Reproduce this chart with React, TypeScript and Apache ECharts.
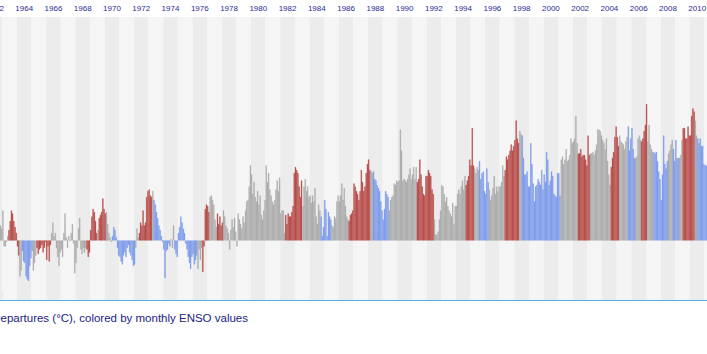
import React, { useEffect, useRef } from "react";
import * as echarts from "echarts";

// Monthly temperature departures (°C), Jan 1962 onwards
const anom1960s = [
  0.04, 0.08, 0.06, 0.03, 0.0, 0.05, 0.02, 0.04, 0.07, 0.02, 0.1, 0.08,
  0.2, -0.04, -0.04, -0.01, 0.03, 0.07, 0.13, 0.2, 0.18, 0.13, 0.09, 0.05,
  -0.04, -0.1, -0.24, -0.2, -0.07, -0.14, -0.15, -0.24, -0.26, -0.27, -0.17, -0.12,
  -0.07, -0.2, -0.15, -0.1, -0.05, -0.09, -0.06, -0.05, -0.03, -0.08, -0.05, -0.01,
  -0.13, -0.04, -0.14, -0.03, 0.05, 0.12, 0.03, 0.05, -0.05, -0.11, -0.17, -0.08,
  -0.06, -0.11, 0.05, 0.18, 0.02, -0.05, 0.03, 0.0, 0.05, 0.11, -0.02, -0.22,
  -0.15, -0.05, 0.08, 0.15, -0.06, -0.09, -0.05, -0.08, -0.05, -0.06, -0.11, -0.08,
  0.07, 0.16, 0.21, 0.19, 0.13, 0.05, 0.07, 0.15, 0.17, 0.19, 0.28, 0.21,
];
const anom1970s = [
  0.18, 0.19, 0.11, 0.05, 0.02, -0.01, 0.03, 0.09, 0.07, 0.02, -0.05, -0.1,
  -0.11, -0.14, -0.16, -0.1, -0.08, -0.11, -0.05, -0.03, -0.08, -0.1, -0.13, -0.17,
  -0.16, -0.05, 0.08, 0.02, 0.05, 0.12, 0.1, 0.2, 0.1, 0.12, 0.29, 0.33,
  0.34, 0.3, 0.29, 0.33, 0.27, 0.24, 0.19, 0.15, 0.1, 0.07, 0.03, -0.01,
  -0.06, -0.25, -0.07, -0.06, -0.02, -0.04, 0.01, -0.05, 0.1, -0.06, -0.09, -0.11,
  0.05, 0.09, 0.16, 0.12, 0.08, 0.05, -0.02, -0.06, -0.11, -0.15, -0.19, -0.11,
  -0.09, -0.16, -0.13, -0.1, -0.19, -0.06, -0.13, -0.05, -0.21, -0.04, 0.21, 0.24,
  0.23, 0.19, 0.29, 0.3, 0.27, 0.24, 0.14, 0.09, 0.18, 0.11, 0.16, 0.1,
  0.12, 0.2, 0.16, 0.1, 0.08, 0.05, -0.06, 0.07, 0.14, 0.09, 0.15, 0.06,
  -0.04, 0.18, 0.14, 0.11, 0.08, 0.16, 0.12, 0.2, 0.26, 0.27, 0.36, 0.5,
];
const anom1980s = [
  0.44, 0.31, 0.39, 0.29, 0.26, 0.33, 0.24, 0.3, 0.17, 0.14, 0.2, 0.27,
  0.5, 0.39, 0.45, 0.34, 0.3, 0.26, 0.24, 0.27, 0.34, 0.4, 0.33, 0.42,
  0.18, 0.2, 0.2, 0.05, 0.17, 0.11, 0.18, 0.16, 0.16, 0.19, 0.23, 0.45,
  0.49, 0.47, 0.45, 0.36, 0.29, 0.4, 0.23, 0.36, 0.41, 0.33, 0.36, 0.29,
  0.3, 0.25, 0.3, 0.26, 0.35, 0.16, 0.11, 0.24, 0.2, 0.16, 0.03, 0.09,
  0.27, 0.21, 0.03, 0.19, 0.16, 0.14, 0.1, 0.09, 0.16, 0.15, 0.26, 0.3,
  0.26, 0.3, 0.38, 0.27, 0.35, 0.23, 0.16, 0.14, 0.13, 0.17, 0.18, 0.2,
  0.38, 0.36, 0.33, 0.31, 0.27, 0.33, 0.47, 0.39, 0.33, 0.36, 0.45, 0.51,
  0.54, 0.47, 0.46, 0.45, 0.46, 0.41, 0.4, 0.37, 0.35, 0.33, 0.26, 0.2,
  0.14, 0.21, 0.33, 0.31, 0.29, 0.2, 0.27, 0.29, 0.3, 0.38, 0.37, 0.4,
];
const anom1990s = [
  0.39, 0.4, 0.74, 0.6, 0.4, 0.41, 0.4, 0.39, 0.41, 0.44, 0.48, 0.41,
  0.44, 0.49, 0.41, 0.49, 0.39, 0.41, 0.54, 0.44, 0.36, 0.31, 0.3, 0.43,
  0.43, 0.47, 0.45, 0.43, 0.34, 0.31, 0.14, 0.04, 0.04, 0.06, 0.14, 0.2,
  0.37, 0.36, 0.31, 0.26, 0.29, 0.23, 0.2, 0.18, 0.16, 0.25, 0.11, 0.23,
  0.23, 0.31, 0.34, 0.31, 0.36, 0.4, 0.34, 0.43, 0.37, 0.4, 0.43, 0.54,
  0.5, 0.75, 0.5, 0.48, 0.45, 0.49, 0.47, 0.53, 0.41, 0.45, 0.46, 0.33,
  0.31, 0.48, 0.39, 0.34, 0.27, 0.3, 0.35, 0.43, 0.31, 0.36, 0.33, 0.36,
  0.36, 0.39, 0.5, 0.43, 0.47, 0.56, 0.54, 0.57, 0.6, 0.64, 0.6, 0.63,
  0.67, 0.8, 0.68, 0.65, 0.73, 0.71, 0.7, 0.55, 0.44, 0.44, 0.46, 0.36,
  0.36, 0.65, 0.51, 0.38, 0.26, 0.36, 0.37, 0.41, 0.39, 0.37, 0.47, 0.34,
];
const anom2000s = [
  0.44, 0.39, 0.59, 0.54, 0.37, 0.4, 0.46, 0.43, 0.31, 0.3, 0.29, 0.45,
  0.45, 0.3, 0.54, 0.56, 0.51, 0.54, 0.61, 0.53, 0.54, 0.57, 0.68, 0.65,
  0.66, 0.68, 0.83, 0.65, 0.58, 0.58, 0.61, 0.56, 0.57, 0.57, 0.54, 0.5,
  0.7, 0.57, 0.58, 0.58, 0.59, 0.57, 0.6, 0.64, 0.74, 0.74, 0.73, 0.7,
  0.67, 0.65, 0.61, 0.68, 0.53, 0.44, 0.37, 0.49, 0.55, 0.59, 0.69, 0.76,
  0.69, 0.63, 0.7, 0.66, 0.65, 0.64, 0.61, 0.66, 0.69, 0.76, 0.6, 0.68,
  0.75, 0.61, 0.55, 0.55, 0.56, 0.68, 0.7, 0.67, 0.66, 0.68, 0.73, 0.77,
  0.91, 0.66, 0.77, 0.64, 0.61, 0.59, 0.59, 0.58, 0.59, 0.53, 0.46, 0.41,
  0.27, 0.44, 0.7, 0.51, 0.48, 0.53, 0.58, 0.6, 0.64, 0.67, 0.61, 0.53,
  0.67, 0.55, 0.55, 0.55, 0.57, 0.67, 0.75, 0.75, 0.68, 0.68, 0.76, 0.7,
];
const anom2010s = [
  0.7, 0.83, 0.88, 0.86, 0.8, 0.7, 0.68, 0.65, 0.68, 0.63, 0.63, 0.51,
  0.5, 0.5, 0.52,
];

// Monthly ENSO phases (first month, last month)
const elNinoSpans = [
  ["1963-06", "1964-02"], ["1965-05", "1966-04"], ["1968-10", "1969-06"],
  ["1969-08", "1970-01"], ["1972-05", "1973-03"], ["1976-09", "1977-02"],
  ["1977-09", "1978-01"], ["1982-05", "1983-06"], ["1986-09", "1988-02"],
  ["1991-05", "1992-06"], ["1994-09", "1995-03"], ["1997-05", "1998-04"],
  ["2002-05", "2003-02"], ["2004-08", "2005-02"], ["2006-09", "2007-01"],
  ["2009-07", "2010-04"],
];
const laNinaSpans = [
  ["1964-05", "1965-01"], ["1970-07", "1972-01"], ["1973-05", "1974-06"],
  ["1974-10", "1976-04"], ["1984-10", "1985-06"], ["1988-05", "1989-05"],
  ["1995-08", "1996-03"], ["1998-07", "2001-02"], ["2005-10", "2006-03"],
  ["2007-07", "2008-06"], ["2008-11", "2009-03"], ["2010-07", "2011-12"],
];

const FIRST_YEAR = 1962;
const LAST_YEAR = 2011;
const years: string[] = [];
const months: string[] = [];
for (let y = FIRST_YEAR; y <= LAST_YEAR; y++) {
  years.push(String(y));
  for (let m = 1; m <= 12; m++) months.push(`${y}-${m < 10 ? "0" + m : m}`);
}

const COLOR_WARM = "#b5423f";
const COLOR_COOL = "#7897ec";
const COLOR_NEUTRAL = "#a9a9a9";
const STRIPE_DARK = "#ececec";
const STRIPE_LIGHT = "#f5f5f5";
const TEXT_COLOR = "#2a2a96";

const inSpans = (key: string, spans: string[][]) =>
  spans.some(([a, b]) => key >= a && key <= b);

export default function App() {
  const ref = useRef<HTMLDivElement>(null);

  useEffect(() => {
    if (!ref.current) return;
    const chart = echarts.init(ref.current, undefined, { renderer: "svg" });
    const anomalies = [
      ...anom1960s, ...anom1970s, ...anom1980s, ...anom1990s, ...anom2000s, ...anom2010s,
    ];
    const barData = anomalies.map((v, i) => {
      const key = months[i];
      const color = inSpans(key, elNinoSpans)
        ? COLOR_WARM
        : inSpans(key, laNinaSpans)
        ? COLOR_COOL
        : COLOR_NEUTRAL;
      return { value: v, itemStyle: { color, borderColor: color, borderWidth: 0.35 } };
    });
    const stripeData = years.map((y) => ({
      value: 1,
      itemStyle: { color: Number(y) % 2 === 0 ? STRIPE_DARK : STRIPE_LIGHT },
    }));

    chart.setOption({
      animation: false,
      backgroundColor: "#ffffff",
      grid: { left: 7.64, top: 17, width: 731.5, height: 283, containLabel: false },
      xAxis: [
        {
          type: "category",
          data: months,
          position: "bottom",
          boundaryGap: true,
          axisLine: { show: true, onZero: false, lineStyle: { color: "#56aee4", width: 1 } },
          axisTick: { show: false },
          axisLabel: { show: false },
          splitLine: { show: false },
        },
        {
          type: "category",
          data: years,
          position: "top",
          boundaryGap: true,
          axisLine: { show: false },
          axisTick: { show: false },
          axisLabel: {
            show: true,
            interval: 1,
            margin: 5,
            color: TEXT_COLOR,
            fontSize: 8,
            fontFamily: '"Liberation Sans", Arial, sans-serif',
          },
          splitLine: { show: false },
        },
      ],
      yAxis: [
        { type: "value", min: -0.397, max: 1.49, show: false, splitLine: { show: false } },
        { type: "value", min: 0, max: 1, show: false, splitLine: { show: false } },
      ],
      series: [
        {
          type: "bar",
          xAxisIndex: 1,
          yAxisIndex: 1,
          data: stripeData,
          barWidth: "100%",
          barCategoryGap: "0%",
          silent: true,
          z: 0,
        },
        {
          type: "bar",
          xAxisIndex: 0,
          yAxisIndex: 0,
          data: barData,
          barWidth: "100%",
          barCategoryGap: "0%",
          z: 2,
        },
      ],
      graphic: [
        {
          type: "text",
          x: 268,
          y: 318,
          style: {
            text: "Departures (°C), colored by monthly ENSO values",
            fill: "#222288",
            font: '11.5px "Liberation Sans", Arial, sans-serif',
            textAlign: "right",
            textVerticalAlign: "middle",
            align: "right",
            verticalAlign: "middle",
          },
        },
        {
          type: "text",
          x: 18.3,
          y: 294.5,
          style: {
            text: "n",
            fill: TEXT_COLOR,
            font: '8.5px "Liberation Sans", Arial, sans-serif',
            textAlign: "left",
            textVerticalAlign: "middle",
            align: "left",
            verticalAlign: "middle",
          },
        },
      ],
    });
    return () => chart.dispose();
  }, []);

  return (
    <div
      style={{
        position: "fixed",
        left: 0,
        top: 0,
        width: 707,
        height: 354,
        overflow: "hidden",
        background: "#ffffff",
      }}
    >
      <div
        ref={ref}
        style={{ position: "absolute", left: -20, top: 0, width: 760, height: 354 }}
      />
    </div>
  );
}
